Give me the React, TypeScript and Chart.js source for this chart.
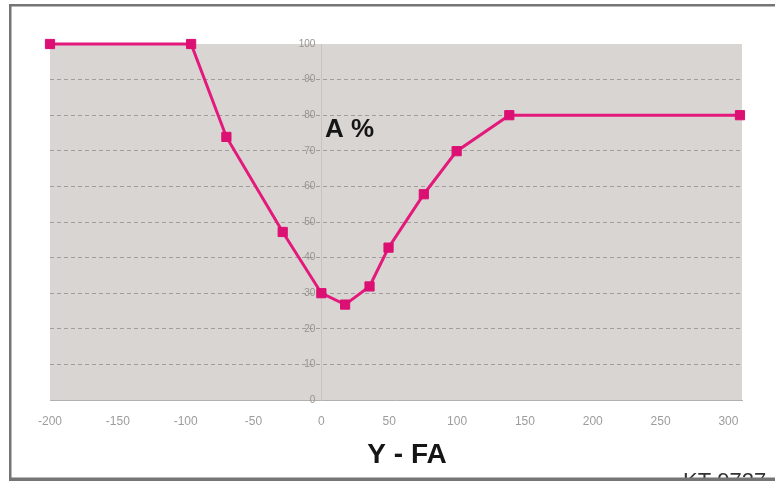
import React, { useEffect, useRef } from "react";
import { Chart, registerables } from "chart.js";

Chart.register(...registerables);

const xValues = [-200, -96, -70, -28.5, 0, 17.5, 35.5, 49.5, 75.5, 99.7, 138.5, 308.5];
const yValues = [100, 100, 73.9, 47.2, 30.0, 26.8, 31.9, 42.8, 57.8, 69.9, 80, 80];
const xTickValues = [-200, -150, -100, -50, 0, 50, 100, 150, 200, 250, 300];
const yTickValues = [0, 10, 20, 30, 40, 50, 60, 70, 80, 90, 100];
const yTitle = "A %";
const xTitle = "Y - FA";
const stampText = "KT 9727";

const FONT = "'Liberation Sans', Arial, sans-serif";

const decorPlugin = {
  id: "decor",
  beforeDraw(chart: any) {
    const { ctx, chartArea } = chart;
    ctx.save();
    ctx.fillStyle = "#d8d5d2";
    ctx.fillRect(chartArea.left, chartArea.top, chartArea.right - chartArea.left, chartArea.bottom - chartArea.top);
    ctx.restore();
  },
  beforeDatasetsDraw(chart: any) {
    const { ctx, scales } = chart;
    const ax = scales.x.getPixelForValue(0);
    ctx.save();
    ctx.fillStyle = "#96938f";
    ctx.font = `10px ${FONT}`;
    ctx.textAlign = "right";
    ctx.textBaseline = "middle";
    yTickValues.forEach((v) => {
      ctx.fillText(String(v), ax - 6, scales.y.getPixelForValue(v));
    });
    ctx.restore();
  },
  afterDraw(chart: any) {
    const { ctx } = chart;
    ctx.save();
    ctx.fillStyle = "#151515";
    ctx.textBaseline = "middle";
    ctx.font = `bold 26px ${FONT}`;
    ctx.textAlign = "left";
    ctx.fillText(yTitle, 325, 130);
    ctx.font = `bold 28px ${FONT}`;
    ctx.textAlign = "center";
    ctx.fillText(xTitle, 407, 455);
    ctx.fillStyle = "#333";
    ctx.font = `22px ${FONT}`;
    ctx.textAlign = "left";
    ctx.textBaseline = "alphabetic";
    ctx.fillText(stampText, 683, 488);
    ctx.fillStyle = "#757575";
    ctx.fillRect(9, 4, 766, 2.5);
    ctx.fillRect(9, 4, 2.5, 476);
    ctx.fillRect(9, 477.5, 766, 3.5);
    ctx.restore();
  },
};

export default function App() {
  const ref = useRef<HTMLCanvasElement | null>(null);
  useEffect(() => {
    if (!ref.current) return;
    const data = xValues.map((x, i) => ({ x, y: yValues[i] }));
    const chart = new Chart(ref.current, {
      type: "scatter",
      data: {
        datasets: [
          {
            data,
            showLine: true,
            borderColor: "#e3197c",
            borderWidth: 3,
            pointStyle: "rect",
            pointRadius: 6.5,
            pointBackgroundColor: "#dc0f73",
            pointBorderColor: "#dc0f73",
            pointBorderWidth: 1,
            clip: false,
          } as any,
        ],
      },
      options: {
        responsive: false,
        animation: false,
        devicePixelRatio: 1,
        layout: { padding: { left: 50, right: 33, top: 44, bottom: 0 } },
        plugins: { legend: { display: false }, tooltip: { enabled: false }, title: { display: false } },
        scales: {
          x: {
            type: "linear",
            position: "bottom",
            min: -200,
            max: 310,
            afterFit: (s: any) => {
              s.height = 81;
            },
            afterBuildTicks: (s: any) => {
              s.ticks = xTickValues.map((v) => ({ value: v }));
            },
            ticks: {
              includeBounds: false,
              stepSize: 50,
              padding: 14,
              color: "#9c9c9c",
              font: { family: FONT, size: 12 },
              maxRotation: 0,
              autoSkip: false,
            },
            grid: { display: false, drawTicks: false },
            border: { display: true, color: "#b3b0ad", width: 1 },
          },
          y: {
            type: "linear",
            position: { x: 0 } as any,
            min: 0,
            max: 100,
            afterBuildTicks: (s: any) => {
              s.ticks = yTickValues.map((v) => ({ value: v }));
            },
            ticks: {
              display: false,
              stepSize: 10,
              autoSkip: false,
            },
            grid: {
              drawTicks: false,
              color: (c: any) => (c.tick && (c.tick.value === 0 || c.tick.value === 100) ? "rgba(0,0,0,0)" : "#a09d9a"),
              lineWidth: 1,
            },
            border: { display: true, color: "#c6c3c0", width: 1, dash: [4, 3] },
          },
        },
      },
      plugins: [decorPlugin],
    });
    return () => chart.destroy();
  }, []);
  return (
    <div style={{ position: "fixed", left: 0, top: 0, width: 775, height: 481, background: "#fff" }}>
      <canvas ref={ref} width={775} height={481} style={{ display: "block", width: 775, height: 481 }} />
    </div>
  );
}
